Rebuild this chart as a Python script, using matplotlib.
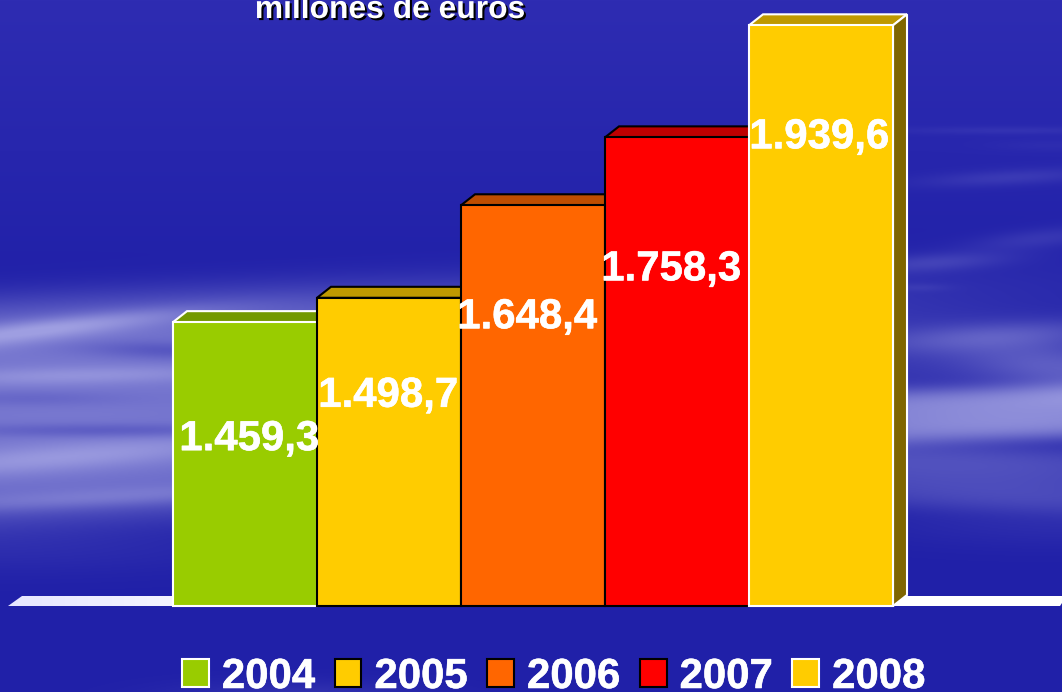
import numpy as np
import matplotlib
matplotlib.use('Agg')
import matplotlib.pyplot as plt
import matplotlib.patheffects as pe
from matplotlib.colors import to_rgb
from matplotlib.patches import Polygon

plt.rcParams['font.family'] = ['Liberation Sans', 'DejaVu Sans']

# Datos
years = ['2004', '2005', '2006', '2007', '2008']
values = [1459.3, 1498.7, 1648.4, 1758.3, 1939.6]
value_labels = ['1.459,3', '1.498,7', '1.648,4', '1.758,3', '1.939,6']
colors = ['#99CC00', '#FFCC00', '#FF6600', '#FF0000', '#FFCC00']
edges = ['white', 'black', 'black', 'black', 'white']
title = 'millones de euros'

# Ajustes de etiqueta, en pixeles respecto a la cara superior de cada barra
label_dx = [4, -1, -6, -6, -2]
label_drop = [128, 109, 123, 143, 123]

W, H = 1062, 692
fig = plt.figure(figsize=(W / 100, H / 100), dpi=100)

# Fondo: cielo con nubes alargadas (x, y, ancho, alto, intensidad, pendiente, potencia)
clouds = [
    (60, 407, 700, 110, 0.66, -0.04, 6),
    (20, 333, 150, 12, 0.30, -0.12, 2), (90, 322, 140, 9, 0.12, -0.10, 2),
    (80, 375, 170, 9, 0.20, -0.02, 2), (60, 457, 200, 14, 0.25, -0.08, 2),
    (110, 497, 220, 10, 0.20, -0.05, 2), (170, 350, 90, 9, -0.22, 0.02, 2),
    (110, 430, 170, 7, -0.20, 0, 2), (30, 398, 100, 8, -0.12, 0, 2),
    (0, 545, 260, 28, 0.10, 0, 2),
    (1040, 412, 330, 27, 0.72, -0.03, 4), (1062, 368, 110, 26, 0.38, 0.12, 2),
    (1000, 335, 130, 14, 0.28, -0.06, 2), (1000, 478, 260, 32, 0.30, 0.03, 4),
    (1062, 520, 200, 26, 0.10, 0, 2),
    (935, 262, 75, 9, 0.20, -0.06, 2), (1040, 238, 70, 10, 0.15, -0.10, 2),
    (1010, 177, 90, 8, 0.16, -0.05, 2), (1010, 130, 120, 4, 0.09, 0, 2),
    (920, 287, 30, 4, 0.08, 0, 2), (1050, 145, 60, 6, 0.05, 0, 2),
    (300, 700, 130, 18, 0.16, 0, 2),
]
yy, xx = np.mgrid[0:H, 0:W]
base_top = np.array([46, 44, 178.])
base_bot = np.array([32, 32, 168.])
t = np.clip(yy / 300., 0, 1)[..., None]
sky = base_top * (1 - t) + base_bot * t
a = np.zeros((H, W))
for cx, cy, sx, sy, amp, slope, p in clouds:
    a += amp * np.exp(-((xx - cx) / sx) ** 2 - np.abs((yy - cy - slope * (xx - cx)) / sy) ** p)
a = np.clip(a, 0, 0.95)[..., None]
sky = sky * (1 - a) + np.array([165, 165, 228.]) * a

bg = fig.add_axes([0, 0, 1, 1])
bg.imshow(sky / 255., extent=(0, W, H, 0), aspect='auto', interpolation='bilinear')
bg.axis('off')

# Suelo blanco
grad = np.linspace(0.90, 1, 300)[None, :, None] * np.ones((1, 300, 3))
grad = np.clip(grad + np.array([0, 0, 0.10]), 0, 1)
floor = bg.imshow(grad, extent=(0, 300, 606, 596), aspect='auto')
floor.set_clip_path(Polygon([(8, 606), (22, 596), (300, 596), (300, 606)], transform=bg.transData))
bg.add_patch(Polygon([(300, 606), (300, 596), (1062, 596), (1062, 603), (1060, 606)],
                     facecolor='white', edgecolor='none'))
bg.set_xlim(0, W)
bg.set_ylim(H, 0)

# Barras
ax = fig.add_axes([173 / W, (H - 606) / H, 720 / W, 618 / H])
ax.set_xlim(-0.5, 4.5)
ax.set_ylim(1000, 2000)
ax.axis('off')
depth_x = 14 / 144.
depth_y = 11 / 0.618
x = np.arange(len(years))
lw = 1.5
handles = []
for i in x:
    v = values[i]
    l, r = i - 0.5, i + 0.5
    rgb = np.array(to_rgb(colors[i]))
    z = 2 + i
    ax.add_patch(Polygon([(l, v), (l + depth_x, v + depth_y), (r + depth_x, v + depth_y), (r, v)],
                         facecolor=rgb * 0.75, edgecolor=edges[i], lw=lw, zorder=z, clip_on=False))
    ax.add_patch(Polygon([(r, 1000), (r + depth_x, 1000 + depth_y), (r + depth_x, v + depth_y), (r, v)],
                         facecolor=rgb * 0.5, edgecolor=edges[i], lw=lw, zorder=z, clip_on=False))
    b = ax.bar(i, v - 1000, bottom=1000, width=1, color=colors[i], edgecolor=edges[i],
               linewidth=lw, zorder=z, clip_on=False, label=years[i])
    handles.append(b[0])
    ax.annotate(value_labels[i], (i, v), xytext=(label_dx[i], -label_drop[i]),
                textcoords='offset pixels', ha='center', va='baseline', color='white',
                fontsize=30.2, fontweight='bold', zorder=20, annotation_clip=False,
                path_effects=[pe.withStroke(linewidth=0.4, foreground='white')])

# Titulo cortado por el borde superior
fig.text(390 / W, (H - 18) / H, title, ha='center', va='baseline', color='white',
         fontsize=22.9, fontweight='bold',
         path_effects=[pe.withSimplePatchShadow(offset=(1.5, -1.5), shadow_rgbFace='black', alpha=1)])

# Leyenda
leg = fig.legend(handles=handles, labels=years, loc='lower left',
                 bbox_to_anchor=(182 / W, -5 / H), bbox_transform=fig.transFigure,
                 ncol=5, frameon=False, borderpad=0, borderaxespad=0,
                 handlelength=0.64, handleheight=0.64, handletextpad=0.31, columnspacing=0.47,
                 prop={'size': 30.2, 'weight': 'bold'}, labelcolor='white')
for txt in leg.get_texts():
    txt.set_path_effects([pe.withStroke(linewidth=0.4, foreground='white')])

fig.savefig('out.png', dpi=100)
